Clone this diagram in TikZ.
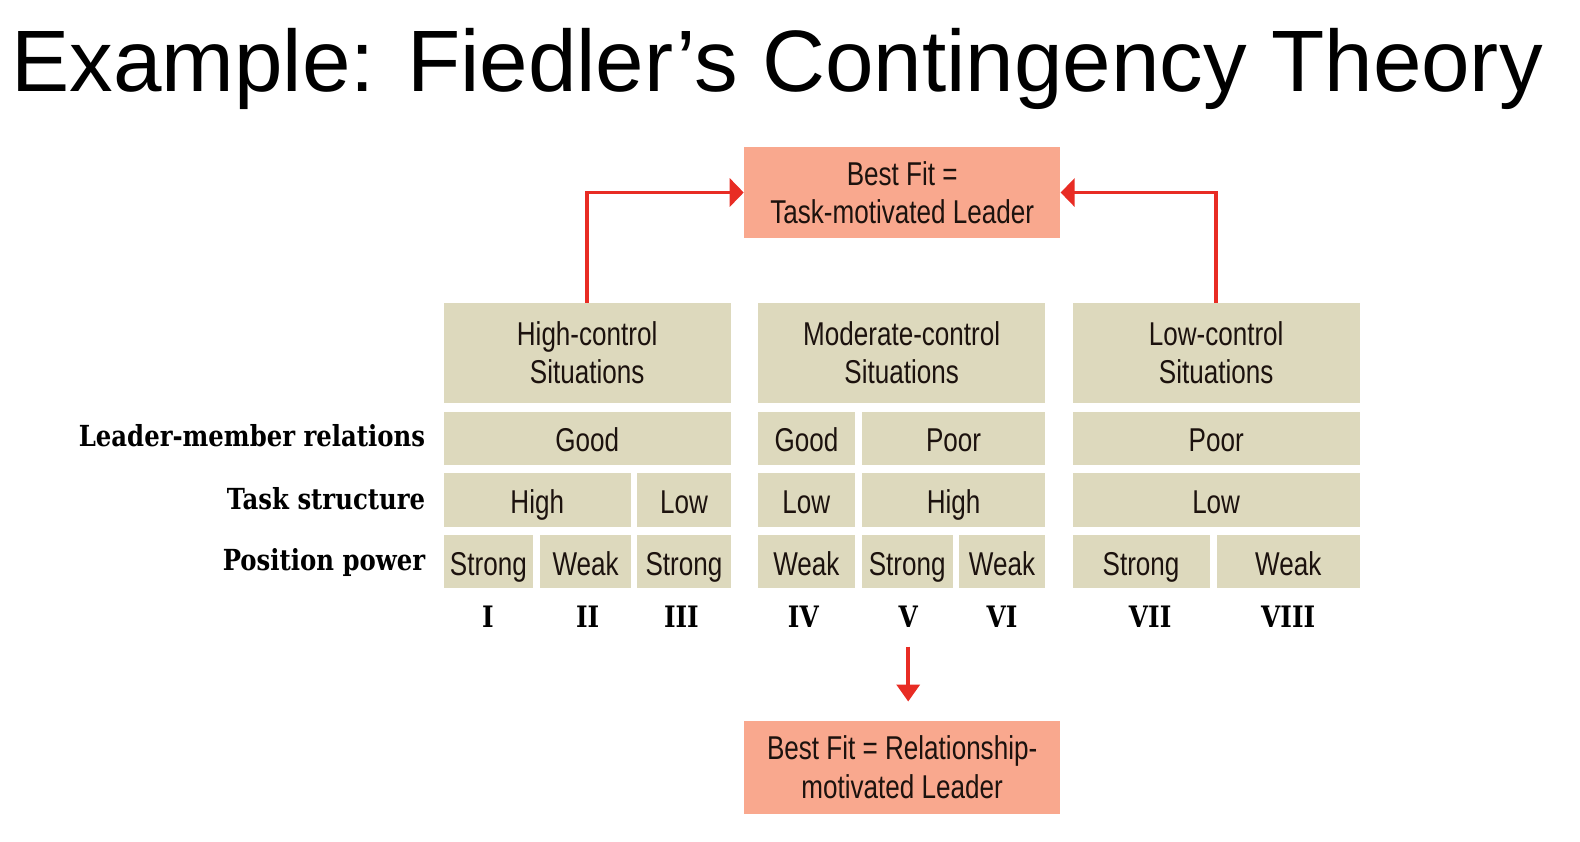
\documentclass[tikz,border=0pt]{standalone}
\usepackage{fontspec}
\setmainfont{Liberation Sans}
\newfontfamily\condfont{Liberation Sans}[FakeStretch=0.79]
\newfontfamily\labfont{DejaVu Serif}[FakeStretch=0.84]
\usetikzlibrary{arrows.meta}
\definecolor{beige}{RGB}{221,217,189}
\definecolor{salmon}{RGB}{249,168,142}
\definecolor{arrowred}{RGB}{232,44,36}
\definecolor{ink}{RGB}{28,18,14}
\tikzset{
  cell/.style={fill=beige, inner sep=0pt, text=ink, align=center,
    font=\condfont\fontsize{33}{38.3}\selectfont},
  rowcell/.style={cell, text height=29pt, text depth=2pt},
  fitbox/.style={fill=salmon, inner sep=0pt, text=ink, align=center,
    font=\condfont\fontsize{33}{38.5}\selectfont},
  rowlab/.style={anchor=base east, inner sep=0pt, text=black,
    font=\labfont\bfseries\fontsize{29}{34}\selectfont},
  numlab/.style={anchor=base, inner sep=0pt, text=black,
    font=\labfont\bfseries\fontsize{29.5}{34}\selectfont},
  conn/.style={draw=arrowred, line width=3.6pt,
    -{Triangle[length=14pt,width=28pt]}},
  connv/.style={draw=arrowred, line width=3.6pt,
    -{Triangle[length=17pt,width=23pt]}},
}
\newcommand\mkcell[7]{\node[#7, minimum width={(#4-#2)*1.008pt}, minimum height={(#5-#3)*1.008pt}] (#1) at ({(#2+#4)/2},{(#3+#5)/2}) {#6};}
\begin{document}
\begin{tikzpicture}[x=1.008pt,y=-1.008pt]
\useasboundingbox (0,0) rectangle (1567.46,835.32);
% title
\node[anchor=base west, inner sep=0pt, font=\fontsize{87.2}{100}\selectfont] (title) at (11,91) {Example: Fiedler’s Contingency Theory};
% result boxes
\mkcell{tf}{738}{145.5}{1052}{236.5}{Best Fit =\\Task-motivated Leader}{fitbox}
\mkcell{rf}{738}{715}{1052}{807.5}{Best Fit = Relationship-\\motivated Leader}{fitbox}
% headers
\mkcell{hc}{440}{300.3}{725}{399.5}{High-control\\Situations}{cell}
\mkcell{mc}{752}{300.3}{1037}{399.5}{Moderate-control\\Situations}{cell}
\mkcell{lc}{1064}{300.3}{1349}{399.5}{Low-control\\Situations}{cell}
% leader-member relations
\mkcell{a1}{440}{408.7}{725}{461.3}{Good}{rowcell}
\mkcell{a2}{752}{408.7}{848}{461.3}{Good}{rowcell}
\mkcell{a3}{855}{408.7}{1037}{461.3}{Poor}{rowcell}
\mkcell{a4}{1064}{408.7}{1349}{461.3}{Poor}{rowcell}
% task structure
\mkcell{b1}{440}{469.5}{626}{522.8}{High}{rowcell}
\mkcell{b2}{632}{469.5}{725}{522.8}{Low}{rowcell}
\mkcell{b3}{752}{469.5}{848}{522.8}{Low}{rowcell}
\mkcell{b4}{855}{469.5}{1037}{522.8}{High}{rowcell}
\mkcell{b5}{1064}{469.5}{1349}{522.8}{Low}{rowcell}
% position power
\mkcell{p1}{440}{530.8}{529}{583.3}{Strong}{rowcell}
\mkcell{p2}{536}{530.8}{626}{583.3}{Weak}{rowcell}
\mkcell{p3}{632}{530.8}{725}{583.3}{Strong}{rowcell}
\mkcell{p4}{752}{530.8}{848}{583.3}{Weak}{rowcell}
\mkcell{p5}{855}{530.8}{945}{583.3}{Strong}{rowcell}
\mkcell{p6}{951}{530.8}{1037}{583.3}{Weak}{rowcell}
\mkcell{p7}{1064}{530.8}{1200}{583.3}{Strong}{rowcell}
\mkcell{p8}{1207}{530.8}{1349}{583.3}{Weak}{rowcell}
% row labels
\node[rowlab] (l1) at (422,443) {Leader-member relations};
\node[rowlab] (l2) at (422,505.5) {Task structure};
\node[rowlab] (l3) at (422,566) {Position power};
% numerals
\node[numlab] (n1) at (484,623) {I};
\node[numlab] (n2) at (583,623) {II};
\node[numlab] (n3) at (676,623) {III};
\node[numlab] (n4) at (797,623) {IV};
\node[numlab] (n5) at (901,623) {V};
\node[numlab] (n6) at (994,623) {VI};
\node[numlab] (n7) at (1141,623) {VII};
\node[numlab] (n8) at (1278,623) {VIII};
% connectors
\draw[conn] (hc.north) |- (tf.west);
\draw[conn] (lc.north) |- (tf.east);
\coordinate (vtail) at (901,641.6);
\draw[connv, shorten >=19pt] (vtail) -- (vtail |- rf.north);
\end{tikzpicture}
\end{document}
